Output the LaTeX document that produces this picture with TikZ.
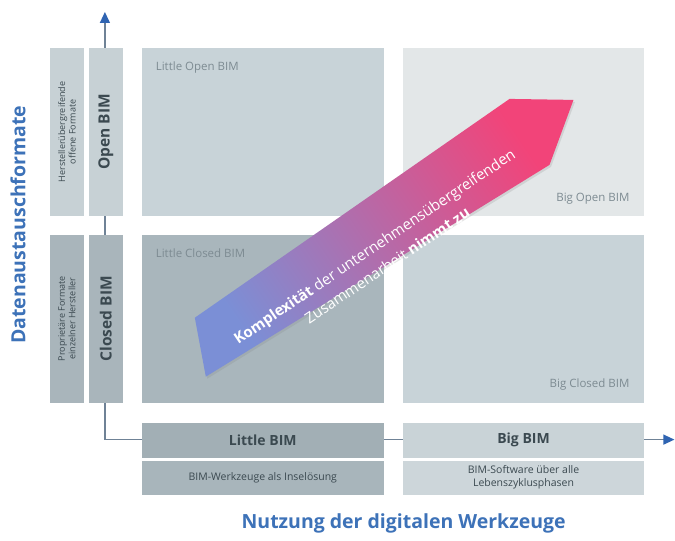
\documentclass[tikz,border=0pt]{standalone}
\usepackage{fontspec}
\setmainfont{Open Sans}
\usepackage{tikz}
\usetikzlibrary{positioning,arrows.meta,shadows}
\definecolor{quadlight}{HTML}{E3E7E8}
\definecolor{quadmid}{HTML}{C8D3D8}
\definecolor{quaddark}{HTML}{A9B6BC}
\definecolor{sideopen}{HTML}{C7D1D5}
\definecolor{sideclosed}{HTML}{A9B5BB}
\definecolor{littlehd}{HTML}{A2AFB5}
\definecolor{littlesb}{HTML}{A8B5BB}
\definecolor{bighd}{HTML}{C9D3D7}
\definecolor{bigsb}{HTML}{CDD6DA}
\definecolor{textdark}{HTML}{3B4950}
\definecolor{labelgrey}{HTML}{7D8B92}
\definecolor{titleblue}{HTML}{3D72B8}
\definecolor{axisgrey}{HTML}{6F8296}
\definecolor{arrowblue}{HTML}{2F64B2}
\definecolor{trendblue}{HTML}{7B8FD6}
\definecolor{trendmid}{HTML}{C9509E}
\definecolor{trendpink}{HTML}{F24479}
\tikzstyle{quad} = [rectangle, minimum width=242pt, minimum height=168pt, inner sep=0pt]
\tikzstyle{sidebox} = [rectangle, rotate=90, minimum width=168pt, minimum height=34pt,
    inner sep=0pt, align=center, text=textdark]
\tikzstyle{qlabel} = [font=\fontsize{11.5}{13}\selectfont, text=labelgrey, inner sep=0pt]
\tikzstyle{headbox} = [rectangle, minimum width=242pt, minimum height=35pt, inner sep=0pt,
    font=\bfseries\fontsize{14}{16}\selectfont, text=textdark]
\tikzstyle{subbox} = [rectangle, minimum width=242pt, minimum height=34pt, inner sep=0pt,
    align=center, font=\fontsize{10.5}{13}\selectfont, text=textdark]
\tikzstyle{axistitle} = [font=\bfseries\fontsize{19.5}{22}\selectfont, text=titleblue]
\tikzstyle{axis} = [draw=axisgrey, line width=1.2pt,
    {Triangle[length=11pt,width=10pt,color=arrowblue]}-{Triangle[length=11pt,width=10pt,color=arrowblue]}]
\tikzstyle{trendarrow} = [top color=trendpink, middle color=trendmid, bottom color=trendblue,
    shading angle=-56, drop shadow={opacity=0.2, shadow xshift=1.5pt, shadow yshift=-2pt}]
\tikzstyle{trendtext} = [text=white, align=center, font=\fontsize{15}{23}\selectfont, inner sep=0pt]

\begin{document}
\begin{tikzpicture}[x=1pt, y=-1pt]
    \fill[white] (0,0) rectangle (675,541);
    % Axes
    \coordinate (ytop) at (105,12);
    \coordinate (origin) at (105,440);
    \coordinate (xend) at (675,440);
    \draw[axis] (ytop) -- (origin) -- (xend);
    % Place nodes
    \node [quad, fill=quadmid] (lopen) at (263,132) {};
    \node [quad, fill=quadlight] (bopen) at (524,132) {};
    \node [quad, fill=quaddark] (lclosed) at (263,319) {};
    \node [quad, fill=quadmid] (bclosed) at (524,319) {};
    \node [qlabel, below right=14pt and 14pt of lopen.north west] {Little Open BIM};
    \node [qlabel, above left=12pt and 15pt of bopen.south east] {Big Open BIM};
    \node [qlabel, below right=14pt and 14pt of lclosed.north west] {Little Closed BIM};
    \node [qlabel, above left=12pt and 15pt of bclosed.south east] {Big Closed BIM};

    \node [sidebox, fill=sideopen, font=\fontsize{9}{10.5}\selectfont] (hopen) at (67,132)
        {Herstellerübergreifende\\offene Formate};
    \node [sidebox, fill=sideopen, font=\bfseries\fontsize{15.5}{17}\selectfont] (iopen) at (106,132) {Open BIM};
    \node [sidebox, fill=sideclosed, font=\fontsize{9}{10.5}\selectfont] (hclosed) at (67,319)
        {Proprietäre Formate\\einzelner Hersteller};
    \node [sidebox, fill=sideclosed, font=\bfseries\fontsize{15.5}{17}\selectfont] (iclosed) at (106,319) {Closed BIM};

    \node [headbox, fill=littlehd] (littlehead) at (263,440.5) {Little BIM};
    \node [subbox, fill=littlesb] (littlesub) at (263,478) {BIM-Werkzeuge als Inselösung};
    \node [headbox, fill=bighd] (bighead) at (524,440.5) {Big BIM};
    \node [subbox, fill=bigsb] (bigsub) at (524,478) {BIM-Software über alle\\Lebenszyklusphasen};

    % Trend arrow
    \shade [trendarrow] (195,318) -- (510,99) -- (574,100) -- (550,165) -- (206,377) -- cycle;
    \node [trendtext, rotate=34] (trend) at (381,256)
        {\textbf{Komplexität} der unternehmensübergreifenden\\Zusammenarbeit \textbf{nimmt zu}};

    % Axis titles
    \node [axistitle, rotate=90] (ytitle) at (18,225) {Datenaustauschformate};
    \node [axistitle] (xtitle) at (404,524) {Nutzung der digitalen Werkzeuge};
\end{tikzpicture}
\end{document}
